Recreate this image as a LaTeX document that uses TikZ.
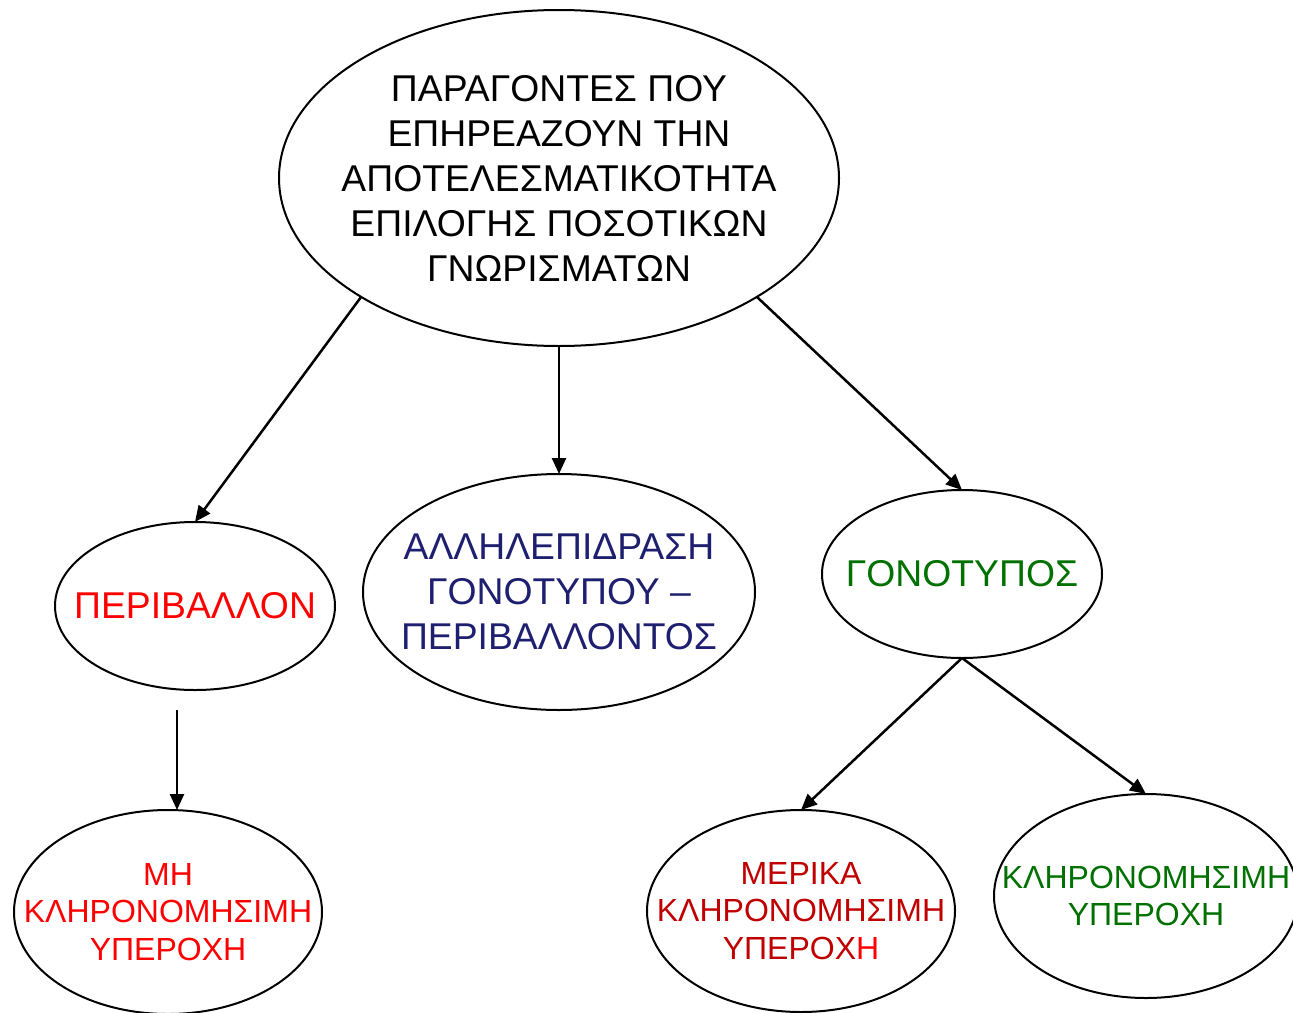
\documentclass[tikz,border=0pt]{standalone}
\usepackage{fontspec}
\setmainfont{Liberation Sans}
\usetikzlibrary{shapes.geometric,arrows.meta,calc}
\definecolor{navyt}{RGB}{31,31,112}
\definecolor{greent}{RGB}{0,112,0}
\definecolor{darkredt}{RGB}{192,0,0}
\begin{document}
\begin{tikzpicture}[x=1pt,y=-1pt,
  oval/.style={draw=black,line width=2pt,ellipse,inner sep=0pt,outer sep=0pt},
  bigtext/.style={font=\fontsize{37.3}{45}\selectfont,align=center,inner sep=0pt},
  smalltext/.style={font=\fontsize{32}{37.5}\selectfont,align=center,inner sep=0pt},
  conn/.style={line width=2.5pt,-{Triangle[length=16pt,width=14pt]}}]
\useasboundingbox (0,0) rectangle (1293,1012);
\node[oval,minimum width=560pt,minimum height=336pt,
  label={[bigtext]center:ΠΑΡΑΓΟΝΤΕΣ ΠΟΥ\\ΕΠΗΡΕΑΖΟΥΝ ΤΗΝ\\ΑΠΟΤΕΛΕΣΜΑΤΙΚΟΤΗΤΑ\\ΕΠΙΛΟΓΗΣ ΠΟΣΟΤΙΚΩΝ\\ΓΝΩΡΙΣΜΑΤΩΝ}] (top) at (559,178) {};
\node[oval,minimum width=280pt,minimum height=168pt,
  label={[bigtext,text=red]center:ΠΕΡΙΒΑΛΛΟΝ}] (env) at (195,606) {};
\node[oval,minimum width=392pt,minimum height=236pt,
  label={[bigtext,text=navyt]center:ΑΛΛΗΛΕΠΙΔΡΑΣΗ\\ΓΟΝΟΤΥΠΟΥ –\\ΠΕΡΙΒΑΛΛΟΝΤΟΣ}] (inter) at (559,592) {};
\node[oval,minimum width=280pt,minimum height=168pt,
  label={[bigtext,text=greent]center:ΓΟΝΟΤΥΠΟΣ}] (gen) at (962,574) {};
\node[oval,minimum width=308pt,minimum height=204pt,
  label={[smalltext,text=red]center:ΜΗ\\ΚΛΗΡΟΝΟΜΗΣΙΜΗ\\ΥΠΕΡΟΧΗ}] (mh) at (168,912) {};
\node[oval,minimum width=308pt,minimum height=202pt,
  label={[smalltext,text=darkredt]center:ΜΕΡΙΚΑ\\ΚΛΗΡΟΝΟΜΗΣΙΜΗ\\ΥΠΕΡΟΧ\textcolor{red}{Η}}] (mer) at (801,911) {};
\node[oval,minimum width=304pt,minimum height=204pt,
  label={[smalltext,text=greent]center:ΚΛΗΡΟΝΟΜΗΣΙΜΗ\\ΥΠΕΡΟΧΗ}] (her) at (1146,896) {};
\coordinate (envout) at (177,710);
\draw[conn] (top.211) -- (env.north);
\draw[conn] (top.south) -- (inter.north);
\draw[conn] (top.329) -- (gen.north);
\draw[conn] (envout) -- (envout |- mh.north);
\draw[conn] (gen.south) -- (mer.north);
\draw[conn] (gen.south) -- (her.north);
\end{tikzpicture}
\end{document}
